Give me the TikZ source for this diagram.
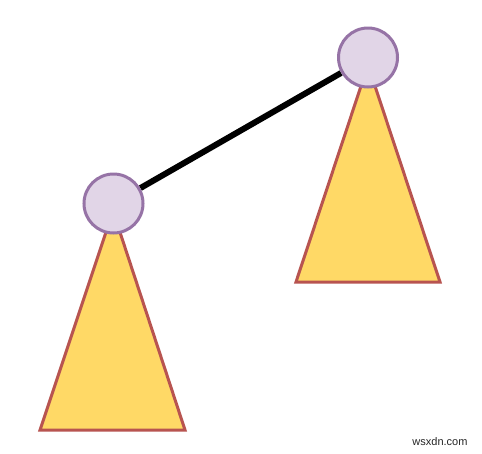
\documentclass[tikz,border=0pt]{standalone}
\usepackage{fontspec}
\setmainfont{Liberation Sans}
\definecolor{cfill}{HTML}{E1D5E7}
\definecolor{cdraw}{HTML}{9673A6}
\definecolor{tfill}{HTML}{FFD966}
\definecolor{tdraw}{HTML}{B85450}
\pgfdeclarelayer{background}
\pgfsetlayers{background,main}
\tikzset{
  tree/.style={fill=tfill,draw=tdraw,line width=3pt,line join=miter},
  vert/.style={circle,fill=cfill,draw=cdraw,line width=3pt,minimum size=59pt,inner sep=0pt},
  edge/.style={line width=6pt,black}
}
\begin{document}
\begin{tikzpicture}[x=1pt,y=-1pt]
\useasboundingbox (0,0) rectangle (482,453);
\node[vert] (b) at (113.5,203.5) {};
\node[vert] (a) at (368,57.5) {};
\node[font=\fontsize{11}{13}\selectfont,text=black!85,anchor=center] (w) at (440,442) {wsxdn.com};
\begin{pgfonlayer}{background}
\fill[white] (0,0) rectangle (482,453);
\draw[tree] (368,65) -- (440,282) -- (296,282) -- cycle;
\draw[tree] (113,211) -- (185,430) -- (40,430) -- cycle;
\draw[edge] (b) -- (a);
\end{pgfonlayer}
\end{tikzpicture}
\end{document}
